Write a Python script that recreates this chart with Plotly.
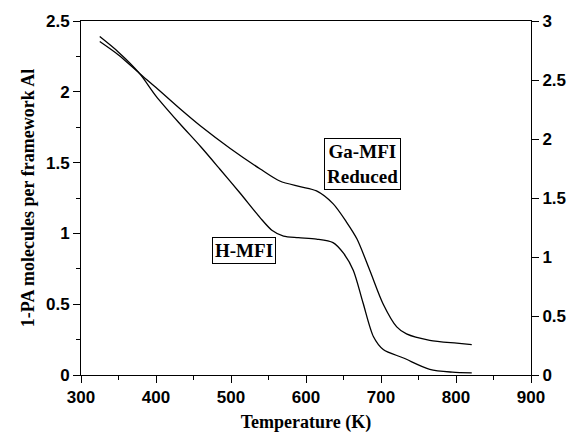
import plotly.graph_objects as go

# Data (Temperature in K, 1-PA molecules per framework Al)
h_mfi_T = [325, 350, 378, 400, 430, 460, 485, 512, 539, 555, 570, 590, 614, 636, 650, 663, 676, 690, 703, 730, 765, 795, 821]
h_mfi_v = [2.39, 2.28, 2.13, 1.97, 1.785, 1.61, 1.455, 1.285, 1.11, 1.02, 0.98, 0.97, 0.96, 0.935, 0.86, 0.74, 0.51, 0.27, 0.18, 0.12, 0.04, 0.02, 0.015]

ga_mfi_T = [325, 350, 378, 400, 432, 459, 499, 539, 565, 592, 614, 636, 654, 668, 685, 703, 721, 734, 765, 801, 821]
ga_mfi_v = [2.355, 2.26, 2.13, 2.03, 1.88, 1.76, 1.60, 1.455, 1.37, 1.33, 1.30, 1.21, 1.08, 0.96, 0.74, 0.50, 0.34, 0.29, 0.245, 0.225, 0.215]

x_ticks = [300, 400, 500, 600, 700, 800, 900]
y_ticks = [0, 0.5, 1, 1.5, 2, 2.5]
y_tick_text = ["0", "0.5", "1", "1.5", "2", "2.5"]
y2_ticks = [0, 0.5, 1, 1.5, 2, 2.5, 3]
y2_tick_text = ["0", "0.5", "1", "1.5", "2", "2.5", "3"]

tickfont = dict(family="Liberation Sans", size=17, color="black")
serif_bold = dict(family="Liberation Serif", size=18, color="black")

def bold(labels):
    return ["<b>%s</b>" % s for s in labels]

fig = go.Figure()
fig.add_trace(go.Scatter(x=h_mfi_T, y=h_mfi_v, mode="lines", name="H-MFI",
                         line=dict(color="black", width=1.3, shape="spline", smoothing=0.8)))
fig.add_trace(go.Scatter(x=ga_mfi_T, y=ga_mfi_v, mode="lines", name="Ga-MFI Reduced",
                         line=dict(color="black", width=1.3, shape="spline", smoothing=0.8)))
fig.add_trace(go.Scatter(x=[None], y=[None], yaxis="y2", mode="lines", showlegend=False, hoverinfo="skip"))

fig.update_layout(
    width=578, height=440,
    margin=dict(l=81, r=47, t=17, b=61),
    paper_bgcolor="white", plot_bgcolor="white",
    showlegend=False,
    xaxis=dict(range=[300, 900], tickvals=x_ticks, ticktext=bold([str(v) for v in x_ticks]),
               showgrid=False, zeroline=False, showline=True, linecolor="black", linewidth=1,
               mirror=True, ticks="outside", ticklen=7, tickcolor="black",
               minor=dict(dtick=50, ticks="outside", ticklen=4, tickcolor="black"),
               tickfont=tickfont,
               title=dict(text="<b>Temperature (K)</b>", font=serif_bold, standoff=8)),
    yaxis=dict(range=[0, 2.5], tickvals=y_ticks, ticktext=bold(y_tick_text),
               showgrid=False, zeroline=False, showline=True, linecolor="black", linewidth=1,
               ticks="outside", ticklen=7, tickcolor="black",
               minor=dict(dtick=0.25, ticks="outside", ticklen=4, tickcolor="black"),
               tickfont=tickfont,
               title=dict(text="<b>1-PA molecules per framework Al</b>", font=serif_bold, standoff=6)),
    yaxis2=dict(range=[0, 3], tickvals=y2_ticks, ticktext=bold(y2_tick_text), overlaying="y", side="right",
                showgrid=False, zeroline=False, showline=True, linecolor="black", linewidth=1,
                ticks="outside", ticklen=7, tickcolor="black",
                tickfont=tickfont),
    annotations=[
        dict(x=675, y=1.49, xref="x", yref="y", text="<b>Ga-MFI</b><br><b>Reduced</b>",
             showarrow=False, font=dict(family="Liberation Serif", size=19, color="black"),
             bordercolor="black", borderwidth=1, borderpad=2, bgcolor="white"),
        dict(x=517, y=0.88, xref="x", yref="y", text="<b>H-MFI</b>",
             showarrow=False, font=dict(family="Liberation Serif", size=19, color="black"),
             bordercolor="black", borderwidth=1, borderpad=2, bgcolor="white"),
    ],
)

fig.write_html("out.html")
